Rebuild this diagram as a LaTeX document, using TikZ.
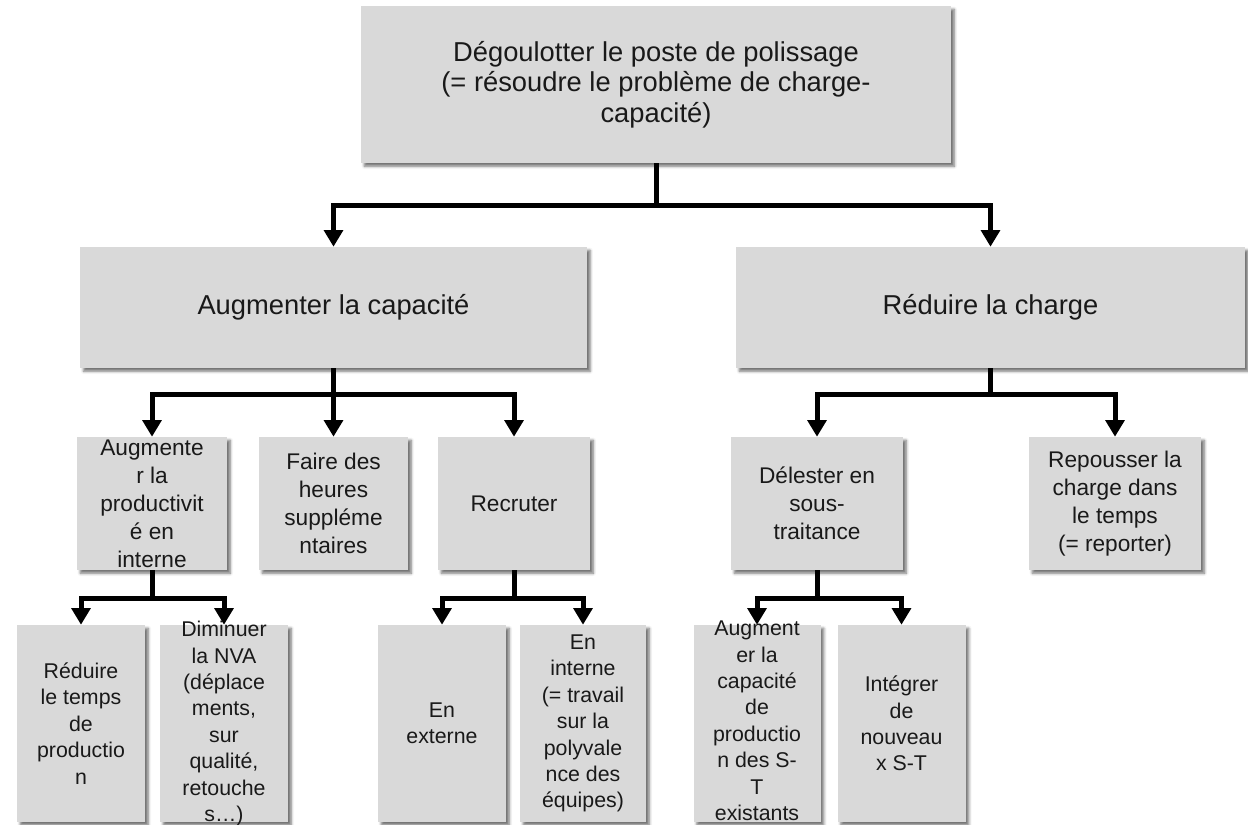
\documentclass[tikz,border=0pt]{standalone}
\usepackage{fontspec}
\setmainfont{Liberation Sans}
\usepackage{xcolor}
\usetikzlibrary{positioning,arrows.meta,shadows.blur}
\definecolor{boxgray}{HTML}{D9D9D9}

\begin{document}
\begin{tikzpicture}[x=0.75pt, y=-0.75pt,
    box/.style={fill=boxgray, inner sep=0pt,
        blur shadow={shadow xshift=2.5pt, shadow yshift=-2.5pt, shadow blur radius=2pt, shadow opacity=55}},
    boxA/.style={box, minimum height=90.75pt},
    boxB/.style={box, minimum height=99.75pt},
    boxC/.style={box, minimum height=147.75pt},
    txt/.style={inner sep=0pt, align=center, text=black!90},
    txtA/.style={txt, font=\fontsize{20.5}{23}\selectfont},
    txtB/.style={txt, font=\fontsize{17}{21}\selectfont},
    txtC/.style={txt, font=\fontsize{16}{19.8}\selectfont},
    link/.style={line width=3.75pt},
    arrow/.style={link, -{Triangle[length=12.5pt,width=14pt]}},
]
\useasboundingbox (0,0) rectangle (1248,824);

% Goal
\node[boxA, minimum width=442.5pt, minimum height=117.75pt,
    label={[txtA]center:Dégoulotter le poste de polissage\\(= résoudre le problème de charge-\\capacité)}] (top) at (656,84.5) {};

% Two ways
\node[boxA, minimum width=380pt, label={[txtA]center:Augmenter la capacité}] (capa) at (333.5,307.5) {};
\node[boxA, minimum width=381.75pt, label={[txtA]center:Réduire la charge}] (charge) at (990.5,307.5) {};

% Capacity side
\node[boxB, minimum width=112.5pt, label={[txtB]center:Augmente\\r la\\productivit\\é en\\interne}] (prod) at (152,503.5) {};
\node[boxB, minimum width=111.75pt, label={[txtB]center:Faire des\\heures\\suppléme\\ntaires}] (heures) at (333.5,503.5) {};
\node[boxB, minimum width=114pt, label={[txtB]center:Recruter}] (recr) at (514,503.5) {};

% Load side
\node[boxB, minimum width=129pt, label={[txtB]center:Délester en\\sous-\\traitance}] (delest) at (817,503.5) {};
\node[boxB, minimum width=129pt, label={[txtB]center:Repousser la\\charge dans\\le temps\\(= reporter)}] (report) at (1115,503.5) {};

% Bottom tier
\node[boxC, minimum width=96pt, label={[txtC]center:Réduire\\le temps\\de\\productio\\n}] (temps) at (81,723.5) {};
\node[boxC, minimum width=96pt, label={[txtC]center:Diminuer\\la NVA\\(déplace\\ments,\\sur\\qualité,\\retouche\\s…)}] (nva) at (224,723.5) {};
\node[boxC, minimum width=96pt, label={[txtC]center:En\\externe}] (ext) at (442,723.5) {};
\node[boxC, minimum width=94.5pt, label={[txtC]center:En\\interne\\(= travail\\sur la\\polyvale\\nce des\\équipes)}] (inter) at (583,723.5) {};
\node[boxC, minimum width=95.25pt, label={[txtC, yshift=2pt]center:Augment\\er la\\capacité\\de\\productio\\n des S-\\T\\existants}] (exist) at (757,723.5) {};
\node[boxC, minimum width=96pt, label={[txtC]center:Intégrer\\de\\nouveau\\x S-T}] (nouv) at (901.5,723.5) {};

% Arrows
\coordinate[below=32pt of top.south] (j0);
\draw[link] (top.south) -- (j0);
\draw[arrow] (j0) -| (capa.north);
\draw[arrow] (j0) -| (charge.north);

\coordinate[below=20pt of capa.south] (j1);
\draw[link] (capa.south) -- (j1);
\draw[arrow] (j1) -| (prod.north);
\draw[arrow] (j1) -- (heures.north);
\draw[arrow] (j1) -| (recr.north);

\coordinate[below=20pt of charge.south] (j2);
\draw[link] (charge.south) -- (j2);
\draw[arrow] (j2) -| (delest.north);
\draw[arrow] (j2) -| (report.north);

\coordinate[below=21pt of prod.south] (j3);
\draw[link] (prod.south) -- (j3);
\draw[arrow] (j3) -| (temps.north);
\draw[arrow] (j3) -| (nva.north);

\coordinate[below=21pt of recr.south] (j4);
\draw[link] (recr.south) -- (j4);
\draw[arrow] (j4) -| (ext.north);
\draw[arrow] (j4) -| (inter.north);

\coordinate[below=21pt of delest.south] (j5);
\draw[link] (delest.south) -- (j5);
\draw[arrow] (j5) -| (exist.north);
\draw[arrow] (j5) -| (nouv.north);

\end{tikzpicture}
\end{document}
